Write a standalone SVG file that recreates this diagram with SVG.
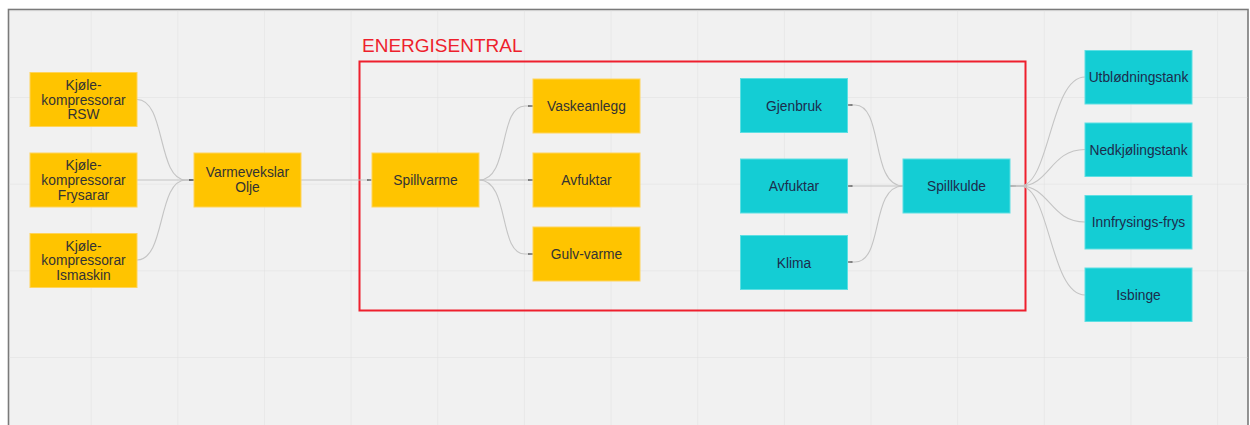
<svg xmlns="http://www.w3.org/2000/svg" width="1250" height="425" viewBox="0 0 1250 425">
  <defs>
    <pattern id="grid" x="5" y="11.4" width="86.65" height="86.65" patternUnits="userSpaceOnUse">
      <path d="M86.65 0 V86.65 M0 86.65 H86.65" fill="none" stroke="#e0e0e0" stroke-width="1"/>
    </pattern>
    <marker id="tip" viewBox="0 0 5 4" refX="5" refY="2" markerWidth="5" markerHeight="4" markerUnits="userSpaceOnUse" orient="auto">
      <path d="M0 1.2 L5 1.4 L5 2.6 L0 2.8 Z" fill="#5a5a5a"/>
    </marker>
    <marker id="tail" viewBox="0 0 6 4" refX="0" refY="2" markerWidth="6" markerHeight="4" markerUnits="userSpaceOnUse" orient="auto">
      <path d="M0 1 L6 1.4 L6 2.6 L0 3 Z" fill="#333"/>
    </marker>
  </defs>
  <style>
    .warm rect { fill: #ffc400; stroke: #ffd45a; stroke-width: 1; }
    .cold rect { fill: #14cdd4; stroke: #5ddfe3; stroke-width: 1; }
    .warm text { fill: #333333; }
    .cold text { fill: #1c2c4c; }
    text { font-family: "Liberation Sans", Arial, sans-serif; font-size: 13.8px; text-anchor: middle; }
    .link { fill: none; stroke: #c4c4c4; stroke-width: 1.1; }
    .title { font-size: 19px; fill: #ee1f2d; text-anchor: start; }
  </style>

  <!-- canvas -->
  <rect x="0" y="0" width="1250" height="425" fill="#ffffff"/>
  <rect x="8.5" y="9.5" width="1239.5" height="420" fill="#f1f1f1" stroke="#7a7a7a" stroke-width="1.6"/>
  <rect x="9.5" y="10.5" width="1238" height="415" fill="url(#grid)"/>

  <!-- energy central frame -->
  <g id="energisentral">
    <rect x="359.5" y="61.5" width="666" height="249" fill="none" stroke="#ee1f2d" stroke-width="2"/>
    <text class="title" x="362" y="51.5">ENERGISENTRAL</text>
  </g>

  <!-- connectors -->
  <g id="connectors">
    <path class="link" d="M137 99.5 C166 99.5 157 180 186 180 L194 180" marker-end="url(#tip)"/>
    <path class="link" d="M137 180 L194 180" marker-end="url(#tip)"/>
    <path class="link" d="M137 260 C166 260 157 180 186 180 L194 180" marker-end="url(#tip)"/>
    <path class="link" d="M301 180 L371.5 180" marker-end="url(#tip)"/>

    <path class="link" d="M479 180 C510 180 498 106 525 106 L533 106" marker-end="url(#tip)"/>
    <path class="link" d="M479 180 L533 180" marker-end="url(#tip)"/>
    <path class="link" d="M479 180 C510 180 498 254 525 254 L533 254" marker-end="url(#tip)"/>

    <path class="link" d="M903 186 C870 186 884 105 855 105 L847.5 105" marker-end="url(#tip)"/>
    <path class="link" d="M903 186 L847.5 186" marker-end="url(#tip)"/>
    <path class="link" d="M903 186 C870 186 884 262 855 262 L847.5 262" marker-end="url(#tip)"/>

    <path class="link" d="M1010 186 L1020 186 C1050 186 1050 77 1085 77" marker-start="url(#tail)"/>
    <path class="link" d="M1010 186 L1020 186 C1050 186 1050 149.5 1085 149.5"/>
    <path class="link" d="M1010 186 L1020 186 C1050 186 1050 222 1085 222"/>
    <path class="link" d="M1010 186 L1020 186 C1050 186 1050 295 1085 295"/>
  </g>

  <!-- heat side -->
  <g id="kjole-rsw" class="warm">
    <rect x="30" y="72.5" width="107" height="54"/>
    <text x="83.5" y="90">Kjøle-</text>
    <text x="83.5" y="104.7">kompressorar</text>
    <text x="83.5" y="119.4">RSW</text>
  </g>
  <g id="kjole-frysarar" class="warm">
    <rect x="30" y="153" width="107" height="54"/>
    <text x="83.5" y="170.3">Kjøle-</text>
    <text x="83.5" y="185">kompressorar</text>
    <text x="83.5" y="199.7">Frysarar</text>
  </g>
  <g id="kjole-ismaskin" class="warm">
    <rect x="30" y="233.5" width="107" height="54"/>
    <text x="83.5" y="250.5">Kjøle-</text>
    <text x="83.5" y="265.2">kompressorar</text>
    <text x="83.5" y="279.9">Ismaskin</text>
  </g>
  <g id="varmevekslar" class="warm">
    <rect x="194" y="153" width="107" height="54"/>
    <text x="247.5" y="177.3">Varmevekslar</text>
    <text x="247.5" y="192.3">Olje</text>
  </g>
  <g id="spillvarme" class="warm">
    <rect x="372" y="153" width="107" height="54"/>
    <text x="425.5" y="185">Spillvarme</text>
  </g>
  <g id="vaskeanlegg" class="warm">
    <rect x="533" y="79" width="107" height="54"/>
    <text x="586.5" y="111">Vaskeanlegg</text>
  </g>
  <g id="avfuktar-varme" class="warm">
    <rect x="533" y="153" width="107" height="54"/>
    <text x="586.5" y="185">Avfuktar</text>
  </g>
  <g id="gulvvarme" class="warm">
    <rect x="533" y="227" width="107" height="54"/>
    <text x="586.5" y="259">Gulv-varme</text>
  </g>

  <!-- cold side -->
  <g id="gjenbruk" class="cold">
    <rect x="740.5" y="78.5" width="107" height="54"/>
    <text x="794" y="110.5">Gjenbruk</text>
  </g>
  <g id="avfuktar-kulde" class="cold">
    <rect x="740.5" y="159" width="107" height="54"/>
    <text x="794" y="191">Avfuktar</text>
  </g>
  <g id="klima" class="cold">
    <rect x="740.5" y="235.5" width="107" height="54"/>
    <text x="794" y="267.5">Klima</text>
  </g>
  <g id="spillkulde" class="cold">
    <rect x="903" y="159" width="107" height="54"/>
    <text x="956.5" y="191">Spillkulde</text>
  </g>
  <g id="utblodningstank" class="cold">
    <rect x="1085" y="50.5" width="107" height="53.5"/>
    <text x="1138.5" y="82">Utblødningstank</text>
  </g>
  <g id="nedkjolingstank" class="cold">
    <rect x="1085" y="123" width="107" height="53.5"/>
    <text x="1138.5" y="154.5">Nedkjølingstank</text>
  </g>
  <g id="innfrysingsfrys" class="cold">
    <rect x="1085" y="195.5" width="107" height="53.5"/>
    <text x="1138.5" y="227">Innfrysings-frys</text>
  </g>
  <g id="isbinge" class="cold">
    <rect x="1085" y="268" width="107" height="53.5"/>
    <text x="1138.5" y="299.5">Isbinge</text>
  </g>
</svg>
